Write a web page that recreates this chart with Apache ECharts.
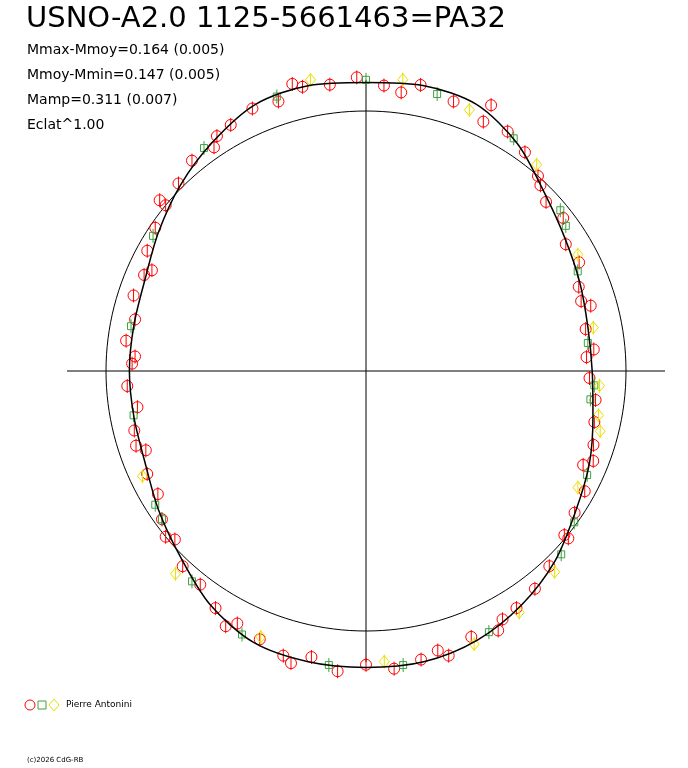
<!DOCTYPE html>
<html>
<head>
<meta charset="utf-8">
<script src="https://cdn.jsdelivr.net/npm/echarts@6/dist/echarts.min.js"></script>
<style>
  html, body { margin: 0; padding: 0; background: #fff; }
  #chart { width: 688px; height: 768px; }
</style>
</head>
<body>
<div id="chart"></div>
<script>
// phase (0..1, clockwise from top) and normalised radius (1 = reference circle)
const fitPhase = [0, 0.03125, 0.0625, 0.09375, 0.125, 0.15625, 0.1875, 0.21875, 0.25, 0.28125, 0.3125, 0.34375, 0.375, 0.40625, 0.4375, 0.46875, 0.5, 0.53125, 0.5625, 0.59375, 0.625, 0.65625, 0.6875, 0.71875, 0.75, 0.78125, 0.8125, 0.84375, 0.875, 0.90625, 0.9375, 0.96875, 1]
const fitRadius = [1.11, 1.12, 1.11, 1.05, 0.97, 0.92, 0.89, 0.87, 0.87, 0.89, 0.93, 0.97, 1.03, 1.08, 1.12, 1.14, 1.14, 1.14, 1.13, 1.08, 1.01, 0.96, 0.92, 0.91, 0.91, 0.91, 0.92, 0.96, 1.01, 1.06, 1.11, 1.12, 1.11]

const redPhase = [0.01, 0.03, 0.05, 0.07, 0.085, 0.10, 0.115, 0.13, 0.145, 0.16, 0.175, 0.19, 0.205, 0.22, 0.235, 0.255, 0.27, 0.285, 0.30, 0.315, 0.33, 0.345, 0.36, 0.38, 0.395, 0.41, 0.425, 0.44, 0.455, 0.47, 0.485, 0.50, 0.515, 0.53, 0.545, 0.56, 0.575, 0.59, 0.605, 0.62, 0.635, 0.65, 0.665, 0.68, 0.695, 0.71, 0.725, 0.74, 0.755, 0.77, 0.785, 0.80, 0.815, 0.83, 0.845, 0.86, 0.875, 0.89, 0.905, 0.92, 0.935, 0.95, 0.965, 0.98, 0.995, 0.02, 0.12, 0.24, 0.36, 0.46, 0.54, 0.64, 0.76, 0.86, 0.96, 0.07, 0.20, 0.31, 0.42, 0.58, 0.70, 0.82, 0.91]
const redRadius = [1.10, 1.12, 1.09, 1.13, 1.07, 1.04, 1.00, 0.95, 0.96, 0.91, 0.92, 0.88, 0.90, 0.86, 0.88, 0.86, 0.89, 0.90, 0.92, 0.91, 0.96, 0.97, 1.01, 1.03, 1.06, 1.08, 1.12, 1.10, 1.14, 1.13, 1.15, 1.13, 1.16, 1.12, 1.14, 1.11, 1.09, 1.08, 1.04, 1.03, 0.98, 0.97, 0.93, 0.93, 0.90, 0.92, 0.89, 0.92, 0.90, 0.93, 0.91, 0.94, 0.93, 0.96, 0.98, 1.00, 1.02, 1.05, 1.04, 1.08, 1.10, 1.09, 1.12, 1.11, 1.13, 1.08, 0.98, 0.85, 0.99, 1.11, 1.16, 1.00, 0.89, 1.03, 1.14, 1.06, 0.87, 0.94, 1.09, 1.12, 0.93, 0.91, 1.07]

const greenPhase = [0.0, 0.04, 0.09, 0.14, 0.18, 0.23, 0.27, 0.32, 0.37, 0.43, 0.48, 0.52, 0.57, 0.61, 0.66, 0.72, 0.78, 0.84, 0.90, 0.95, 0.15, 0.26, 0.35, 0.65]
const greenRadius = [1.12, 1.10, 1.06, 0.97, 0.90, 0.86, 0.87, 0.94, 1.03, 1.11, 1.14, 1.14, 1.12, 1.05, 0.96, 0.91, 0.92, 0.97, 1.06, 1.11, 0.95, 0.88, 0.99, 0.97]

const yellowPhase = [0.02, 0.06, 0.11, 0.17, 0.22, 0.28, 0.33, 0.38, 0.44, 0.49, 0.56, 0.62, 0.68, 0.97, 0.26, 0.29, 0.41]
const yellowRadius = [1.13, 1.08, 1.03, 0.93, 0.89, 0.91, 0.93, 1.06, 1.13, 1.12, 1.10, 1.07, 0.95, 1.14, 0.90, 0.93, 1.10]

const infoLines = ['Mmax-Mmoy=0.164 (0.005)', 'Mmoy-Mmin=0.147 (0.005)', 'Mamp=0.311 (0.007)', 'Eclat^1.00']

function pairs(rs, ps) { return rs.map((r, i) => [r, ps[i]]) }

const circle = []
for (let i = 0; i <= 200; i++) circle.push([1, i / 200])

function markerSeries(name, rs, ps, color, shape) {
  return {
    name, type: 'custom', coordinateSystem: 'polar', z: 5,
    data: pairs(rs, ps),
    renderItem(params, api) {
      const p = api.coord([api.value(0), api.value(1)])
      const x = p[0], y = p[1]
      const st = { stroke: color, fill: 'none', lineWidth: 1 }
      let mark
      if (shape === 'circle') mark = { type: 'circle', shape: { cx: x, cy: y, r: 5.5 }, style: st }
      else if (shape === 'square') mark = { type: 'rect', shape: { x: x - 3.5, y: y - 3.5, width: 7, height: 7 }, style: st }
      else mark = { type: 'polygon', shape: { points: [[x, y - 6], [x + 5, y], [x, y + 6], [x - 5, y]] }, style: st }
      return {
        type: 'group', children: [
          mark,
          { type: 'line', shape: { x1: x, y1: y - 7, x2: x, y2: y + 7 }, style: { stroke: color, lineWidth: 1 } }
        ]
      }
    }
  }
}

const chart = echarts.init(document.getElementById('chart'))
chart.setOption({
  backgroundColor: '#fff',
  animation: false,
  polar: { center: [366, 371], radius: 312 },
  angleAxis: { type: 'value', min: 0, max: 1, startAngle: 90, clockwise: true, show: false },
  radiusAxis: { type: 'value', min: 0, max: 1.2, show: false },
  graphic: [
    { type: 'text', left: 26, top: 5, style: { text: 'USNO-A2.0 1125-5661463=PA32', font: '29px "DejaVu Sans"', fill: '#000' } },
    ...infoLines.map((t, i) => ({ type: 'text', left: 27, top: 43 + i * 25, style: { text: t, font: '14px "DejaVu Sans"', fill: '#000' } })),
    { type: 'circle', shape: { cx: 30, cy: 705, r: 5 }, style: { stroke: '#ff0000', fill: 'none' } },
    { type: 'rect', shape: { x: 38, y: 701, width: 8, height: 8 }, style: { stroke: '#40a040', fill: 'none' } },
    { type: 'polygon', shape: { points: [[54, 699], [59, 705], [54, 711], [49, 705]] }, style: { stroke: '#e8e000', fill: 'none' } },
    { type: 'text', left: 66, top: 700, style: { text: 'Pierre Antonini', font: '9px "DejaVu Sans"', fill: '#000' } },
    { type: 'text', left: 27, top: 757, style: { text: '(c)2026 CdG-RB', font: '7px "DejaVu Sans"', fill: '#000' } }
  ],
  series: [
    { type: 'line', coordinateSystem: 'polar', data: [[1.15, 0.25], [0, 0], [1.15, 0.75]], symbol: 'none', lineStyle: { color: '#000', width: 1 } },
    { type: 'line', coordinateSystem: 'polar', data: [[1.12, 0], [0, 0], [1.12, 0.5]], symbol: 'none', lineStyle: { color: '#000', width: 1 } },
    { type: 'line', coordinateSystem: 'polar', data: circle, symbol: 'none', lineStyle: { color: '#000', width: 1 } },
    markerSeries('red', redRadius, redPhase, '#ff0000', 'circle'),
    markerSeries('green', greenRadius, greenPhase, '#40a040', 'square'),
    markerSeries('yellow', yellowRadius, yellowPhase, '#e8e000', 'diamond'),
    { type: 'line', coordinateSystem: 'polar', data: pairs(fitRadius, fitPhase), smooth: 0.3, symbol: 'none', z: 10, lineStyle: { color: '#000', width: 1.5 } }
  ]
})
</script>
</body>
</html>
